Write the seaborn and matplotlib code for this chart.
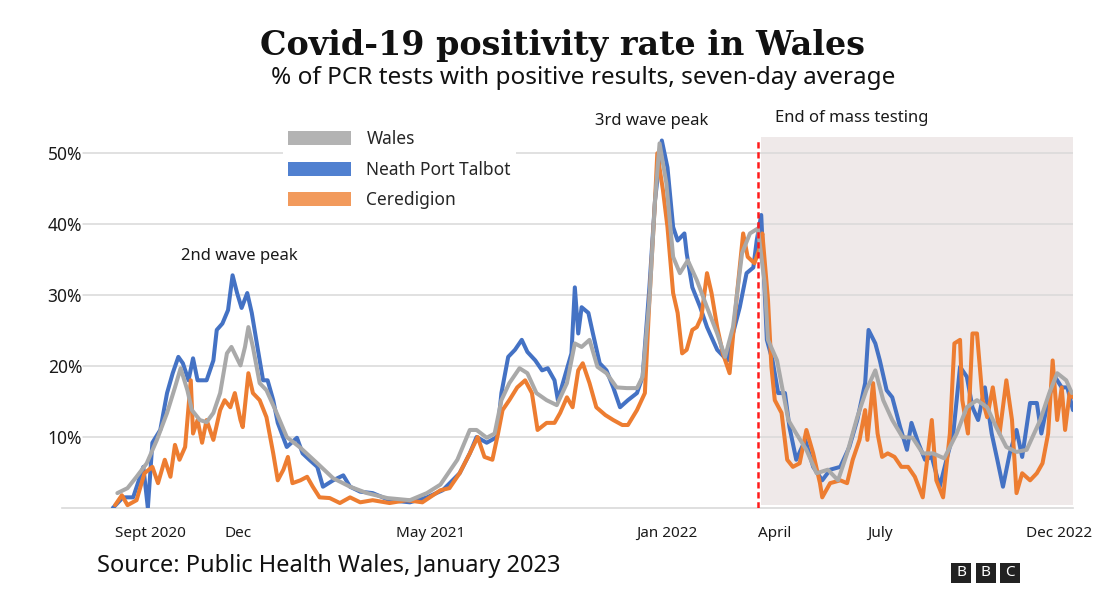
import pandas as pd
import numpy as np
import matplotlib.pyplot as plt
import matplotlib.dates as mdates
from matplotlib.patches import Patch, Rectangle
import seaborn as sns

# days counted from 1 Aug 2020, values are % positive (seven-day average)
start = pd.Timestamp("2020-08-01")
last_day = 895

wales_day = [49, 58, 66, 75, 84, 93, 100, 105, 111, 115, 122, 128, 134, 140, 146, 150, 158, 162, 165, 169,
             175, 181, 190, 199, 211, 226, 240, 255, 270, 288, 308, 323, 335, 350, 361, 367, 376, 383, 389, 396,
             405, 412, 420, 429, 438, 447, 454, 460, 467, 474, 482, 491, 500, 509, 514, 520, 525, 529, 535, 541,
             547, 554, 562, 571, 580, 587, 594, 602, 609, 616, 622, 625, 633, 638, 643, 650, 659, 668, 678, 687,
             695, 704, 712, 720, 727, 735, 744, 753, 762, 771, 781, 792, 801, 810, 819, 827, 836, 845, 854, 866,
             874, 881, 889, 894]
wales_pct = [2.1, 2.8, 4.4, 6.3, 9.6, 13.4, 17, 19.7, 16.6, 13.8, 12.4, 12.1, 13.4, 16.2, 21.8, 22.7, 20.1, 22.7, 25.5, 22.7,
             17.6, 16.6, 13.4, 10, 8.5, 6.3, 4.2, 3.0, 2.1, 1.4, 1.1, 2.1, 3.3, 6.8, 11, 11, 9.9, 10.5, 15.2, 17.6,
             19.7, 19, 16.2, 15.2, 14.5, 17.6, 23.2, 22.7, 23.7, 19.9, 19, 17, 16.9, 16.9, 18.5, 29.3, 43.4, 51.4, 45.8, 35.4,
             33.1, 34.9, 32.1, 28.3, 24.6, 21.3, 25.5, 35.9, 38.7, 39.4, 31.7, 23.7, 20.8, 16.6, 12.4, 10.5, 8.2, 4.9, 5.4, 3.9,
             7.7, 12.8, 16.6, 19.4, 15.2, 12.4, 10, 9.9, 7.7, 7.7, 7, 10.5, 14.2, 15.2, 14.2, 11.4, 8.6, 7.9, 8.2, 12.4,
             16.2, 19, 18, 16.2]

npt_day = [45, 54, 63, 72, 76, 80, 87, 93, 98, 103, 107, 112, 116, 120, 128, 134, 137, 142, 147, 151,
           155, 159, 164, 168, 173, 178, 182, 187, 191, 199, 208, 213, 219, 226, 231, 240, 249, 255, 264, 275,
           290, 308, 323, 337, 352, 361, 367, 376, 385, 389, 395, 401, 407, 412, 419, 425, 430, 436, 439, 445,
           451, 454, 457, 460, 466, 470, 476, 482, 488, 494, 501, 509, 514, 520, 525, 531, 536, 541, 545, 551,
           553, 558, 565, 571, 580, 589, 594, 600, 606, 612, 615, 619, 624, 629, 634, 640, 644, 650, 658, 665,
           673, 680, 689, 697, 704, 711, 714, 720, 724, 730, 735, 742, 748, 752, 758, 764, 770, 777, 783, 789,
           795, 801, 806, 811, 817, 823, 828, 833, 839, 845, 850, 857, 863, 867, 873, 879, 885, 890, 895]
npt_pct = [0, 1.5, 1.5, 5.8, 0, 9.2, 11, 16.2, 19, 21.3, 20.4, 18, 21.1, 18, 18, 20.8, 25.1, 26, 27.9, 32.8,
           30.3, 28.2, 30.3, 27.5, 22.7, 18, 18, 15.2, 12, 8.6, 9.9, 7.7, 6.8, 5.8, 3.0, 3.9, 4.6, 3.0, 2.3, 2.1,
           1.1, 0.8, 1.5, 2.5, 4.9, 7.7, 10, 9.2, 10, 16.2, 21.3, 22.3, 23.7, 22, 20.8, 19.4, 19.7, 18, 15.2, 18.5,
           21.8, 31.1, 24.6, 28.3, 27.5, 24.6, 20.4, 19.4, 17, 14.2, 15.2, 16.2, 18.5, 31.1, 43.4, 51.8, 48, 39.6, 37.7, 38.7,
           35.9, 31.1, 28.3, 25.5, 22.3, 20.8, 24.6, 28.3, 33.1, 33.9, 37.7, 41.3, 23.7, 20.8, 16.2, 16.2, 11.4, 6.8, 9.6, 5.8,
           3.9, 5.4, 5.8, 8.6, 12.4, 17.6, 25.1, 23.2, 20.8, 16.6, 15.6, 11.4, 8.2, 12, 9.2, 6.8, 7.2, 3.0, 6.8, 10.5,
           19.9, 18.5, 14.2, 12.4, 17, 10.5, 6.8, 3.0, 7.7, 11, 7.2, 14.8, 14.8, 10.5, 15.2, 18.5, 17, 17, 13.8]

cer_day = [47, 53, 58, 66, 73, 80, 85, 91, 96, 100, 104, 109, 112, 114, 116, 120, 124, 128, 134, 140,
           144, 149, 153, 158, 160, 165, 169, 175, 181, 187, 191, 196, 200, 204, 211, 217, 222, 228, 237, 246,
           255, 264, 275, 290, 305, 319, 335, 343, 352, 361, 368, 374, 381, 386, 390, 396, 403, 410, 416, 421,
           429, 436, 441, 447, 452, 457, 461, 467, 473, 481, 488, 496, 501, 509, 516, 520, 525, 527, 532, 536,
           541, 545, 549, 553, 558, 562, 566, 571, 575, 580, 585, 591, 597, 603, 607, 613, 618, 620, 625, 628,
           631, 637, 642, 647, 653, 659, 665, 671, 673, 680, 689, 695, 700, 706, 711, 713, 718, 722, 726, 731,
           737, 743, 749, 755, 762, 770, 774, 780, 786, 790, 795, 797, 802, 806, 810, 815, 819, 824, 830, 836,
           841, 845, 850, 857, 863, 868, 873, 877, 881, 885, 888, 892, 895]
cer_pct = [0.4, 1.8, 0.4, 1.1, 4.9, 5.8, 3.5, 6.8, 4.4, 8.9, 6.8, 8.6, 14.2, 18, 10.5, 12.4, 9.2, 12.4, 9.6, 13.8,
           15.2, 14.2, 16.2, 12.4, 11.4, 19, 16.2, 15.2, 12.8, 7.7, 3.9, 5.4, 7.2, 3.5, 3.9, 4.4, 3.0, 1.5, 1.4, 0.7,
           1.5, 0.8, 1.1, 0.7, 1.1, 0.8, 2.5, 2.8, 4.9, 7.7, 10, 7.2, 6.8, 10.5, 13.8, 15.2, 17, 18, 16.2, 11,
           12, 12, 13.4, 15.6, 14.2, 19.4, 20.4, 17.6, 14.2, 13.1, 12.4, 11.7, 11.7, 13.8, 16.2, 29.3, 43.4, 50, 44.8, 39.6,
           30.3, 27.5, 21.8, 22.3, 25.1, 25.5, 26.9, 33.1, 30.3, 25.5, 21.8, 19, 29.3, 38.7, 35.4, 34.5, 36.8, 38.7, 29.3, 19.9,
           15.2, 13.4, 6.8, 5.8, 6.3, 11, 7.7, 3.5, 1.5, 3.5, 3.9, 3.5, 6.8, 9.6, 13.8, 9.6, 17.6, 10.5, 7.2, 7.7,
           7.2, 5.8, 5.8, 4.4, 1.5, 12.4, 3.9, 1.5, 10.5, 23.2, 23.7, 15.2, 10.5, 24.6, 24.6, 15.2, 12.8, 17, 10.5, 18,
           12.4, 2.1, 4.9, 3.9, 4.9, 6.3, 10.5, 20.8, 12.4, 17, 11, 16.2, 15.6]

regions = ["Wales", "Neath Port Talbot", "Ceredigion"]
line_colors = {"Wales": "#a9a9a9", "Neath Port Talbot": "#4472c4", "Ceredigion": "#ed7d31"}
legend_colors = ["#b3b3b3", "#5080d0", "#f29a5c"]

tick_days = [78, 156, 326, 535, 631, 724, 883]
tick_labels = ["Sept 2020", "Dec", "May 2021", "Jan 2022", "April", "July", "Dec 2022"]
y_ticks = [10, 20, 30, 40, 50]
end_testing_day = 616
shade_from_day = 619

def to_dates(days):
    return start + pd.to_timedelta(days, unit="D")

df = pd.concat([
    pd.DataFrame({"date": to_dates(wales_day), "pct": wales_pct, "region": "Wales"}),
    pd.DataFrame({"date": to_dates(npt_day), "pct": npt_pct, "region": "Neath Port Talbot"}),
    pd.DataFrame({"date": to_dates(cer_day), "pct": cer_pct, "region": "Ceredigion"}),
], ignore_index=True)

sns.set_style("white")
plt.rcParams["font.family"] = ["Noto Sans", "DejaVu Sans"]

W, H = 1104, 592
fig = plt.figure(figsize=(W / 100, H / 100), dpi=100)
ax = fig.add_axes([62 / W, 84 / H, 1011 / W, 376 / H])

# shaded period after mass testing ended
ax.axvspan(start + pd.Timedelta(days=shade_from_day), start + pd.Timedelta(days=last_day),
           ymin=0.008, ymax=0.987, color="#efe9e9", lw=0, zorder=0)
for v in y_ticks:
    ax.axhline(v, xmin=0.021, xmax=1, color="#d9d9d9", lw=1.1, zorder=0.5)

sns.lineplot(data=df, x="date", y="pct", hue="region",
             hue_order=["Neath Port Talbot", "Ceredigion", "Wales"],
             palette=line_colors, estimator=None, legend=False,
             linewidth=2.9, ax=ax, zorder=3)

ax.axvline(start + pd.Timedelta(days=end_testing_day), ymin=0.0, ymax=0.98,
           color="#ff1a1a", ls=(0, (2.5, 1.5)), lw=1.8, zorder=4)

ax.set_xlim(start, start + pd.Timedelta(days=last_day))
ax.set_ylim(0, 53)
ax.set_xlabel("")
ax.set_ylabel("")

for s in ["top", "right", "left"]:
    ax.spines[s].set_visible(False)
ax.spines["bottom"].set_color("#d9d9d9")
ax.spines["bottom"].set_linewidth(1.2)

ax.set_yticks(y_ticks)
ax.set_yticklabels([f"{v}%" for v in y_ticks])
ax.tick_params(axis="y", length=0, pad=-14.5, labelsize=12.5, labelcolor="#1a1a1a")

ax.set_xticks(to_dates(tick_days))
ax.set_xticklabels(tick_labels)
ax.xaxis.set_minor_locator(mdates.MonthLocator())
ax.tick_params(axis="x", which="major", length=0, pad=13, labelsize=11, labelcolor="#1a1a1a")
ax.tick_params(axis="x", which="minor", length=7, width=1, color="#d9d9d9")

handles = [Patch(facecolor=c, edgecolor="none") for c in legend_colors]
fig.legend(handles, regions, loc="upper left", bbox_to_anchor=(283 / W, 1 - 125 / H),
           frameon=True, facecolor="white", edgecolor="none", framealpha=1, fancybox=False,
           fontsize=12.5, handlelength=3.6, handleheight=0.9, labelspacing=0.72,
           handletextpad=0.9, borderpad=0.3, borderaxespad=0)

fig.text(239 / W, 1 - 256 / H, "2nd wave peak", ha="center", va="center", fontsize=12, color="#1a1a1a")
fig.text(652 / W, 1 - 121 / H, "3rd wave peak", ha="center", va="center", fontsize=12, color="#1a1a1a")
fig.text(775 / W, 1 - 118 / H, "End of mass testing", ha="left", va="center", fontsize=12, color="#1a1a1a")

fig.text(563 / W, 1 - 45 / H, "Covid-19 positivity rate in Wales", ha="center", va="center",
         fontsize=24, fontweight="bold", family=["DejaVu Serif"], color="#111111")
fig.text(583 / W, 1 - 78 / H, "% of PCR tests with positive results, seven-day average", ha="center",
         va="center", fontsize=17.5, color="#111111")
fig.text(97 / W, 1 - 566 / H, "Source: Public Health Wales, January 2023", ha="left", va="center",
         fontsize=17, color="#111111")

# BBC blocks
for i, letter in enumerate("BBC"):
    x0 = 951 + i * 24.5
    fig.patches.append(Rectangle((x0 / W, 1 - 583 / H), 20 / W, 20 / H, transform=fig.transFigure,
                                 facecolor="#222222", edgecolor="none"))
    fig.text((x0 + 10) / W, 1 - 573 / H, letter, ha="center", va="center", fontsize=11,
             fontweight="bold", color="white")

fig.savefig("out.png", dpi=100)
